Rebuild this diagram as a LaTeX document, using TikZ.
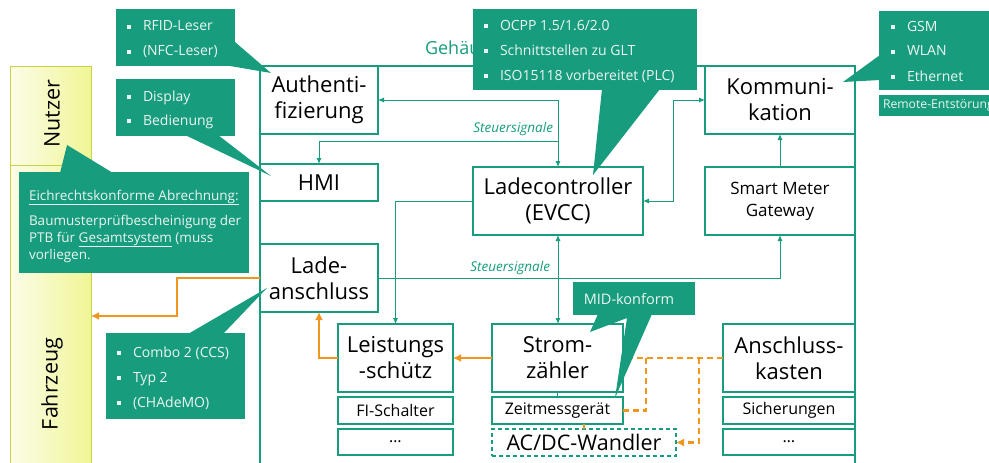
\documentclass[tikz,border=0pt]{standalone}
\usepackage{fontspec}
\setmainfont{Open Sans}
\usetikzlibrary{arrows.meta}
\definecolor{fhgreen}{RGB}{23,156,125}
\definecolor{fhorange}{RGB}{238,150,30}
\definecolor{calltext}{RGB}{236,246,242}
\definecolor{bandlight}{RGB}{252,252,232}
\definecolor{banddark}{RGB}{240,246,150}
\definecolor{bandedge}{RGB}{200,210,70}
\newcommand\bul{\makebox[16pt][l]{\rule[2pt]{3.8pt}{3.8pt}}}
\newcommand\topstrut{\rule{0pt}{1em}}
\newcommand\fs[2]{\fontsize{#1}{#2}\selectfont}
\tikzset{
  unit/.style={inner sep=0pt, outer sep=0pt},
  blk/.style={unit, draw=fhgreen, line width=1.6pt, fill=white, align=center, font=\fs{22}{26}},
  smallblk/.style={blk, font=\fs{16}{18}},
  callbox/.style={unit, fill=fhgreen},
  calltxt/.style={unit, text=calltext, align=left, font=\fs{14}{25}},
  sig/.style={draw=fhgreen, line width=1pt},
  sigto/.style={-{Latex[length=6pt,width=5pt]}},
  sigboth/.style={{Latex[length=6pt,width=5pt]}-{Latex[length=6pt,width=5pt]}},
  pwr/.style={draw=fhorange, line width=2.6pt},
  pwrto/.style={-{Latex[length=8pt,width=8pt]}},
  pwrdash/.style={pwr, dash pattern=on 6pt off 4pt},
  siglabel/.style={unit, text=fhgreen, font=\fs{13.5}{16}\itshape, anchor=east},
  housing/.style={draw=fhgreen, line width=1.5pt}
}
\begin{document}
\begin{tikzpicture}[x=1pt,y=-1pt]
\useasboundingbox (0,0) rectangle (989,463);
\fill[white] (0,0) rectangle (989,463);

% user / vehicle band
\shade[left color=bandlight, right color=banddark] (10,66) rectangle (91,470);
\draw[bandedge, line width=1pt] (10,470) -- (10,66) -- (91,66) -- (91,470);
\draw[bandedge, line width=1pt] (10,165) -- (91,165);
\node[unit, rotate=90, font=\fs{21.5}{24}] (nutzer) at (52,114) {Nutzer};
\node[unit, rotate=90, font=\fs{21.5}{24}] (fahrzeug) at (52,384) {Fahrzeug};

% housing outline
\coordinate (hBL) at (260,470);
\coordinate (hTL) at (260,66);
\coordinate (hTR) at (855,66);
\coordinate (hBR) at (855,470);
\draw[housing] (hBL) -- (hTL) -- (hTR) -- (hBR);
\node[unit, text=fhgreen, font=\fs{18}{20}, anchor=base west] (geh) at (425,54) {Gehäuse};

% function blocks
\node[blk, minimum width=118pt, minimum height=68pt] (auth) at (319,100) {Authenti-\\fizierung};
\node[blk, minimum width=118pt, minimum height=37pt] (hmi) at (319,182.5) {HMI};
\node[blk, minimum width=118pt, minimum height=68pt] (lade) at (319,278) {Lade-\\anschluss};
\node[blk, minimum width=170pt, minimum height=68pt] (evcc) at (558,201) {Ladecontroller\\(EVCC)};
\node[blk, minimum width=150pt, minimum height=68pt] (komm) at (780,100) {Kommuni-\\kation};
\node[blk, minimum width=150pt, minimum height=68pt, font=\fs{17}{22}] (smgw) at (780,201) {Smart Meter\\Gateway};
\node[blk, minimum width=115pt, minimum height=68pt] (schuetz) at (395.5,358) {Leistungs\\-schütz};
\node[smallblk, minimum width=115pt, minimum height=27pt] (fi) at (395.5,410.5) {FI-Schalter};
\node[smallblk, minimum width=115pt, minimum height=26pt] (dotsA) at (395.5,442) {\dots};
\node[blk, minimum width=131pt, minimum height=68pt] (strom) at (557.5,358) {Strom-\\zähler};
\node[smallblk, minimum width=131pt, minimum height=27pt] (zeit) at (557.5,410.5) {Zeitmessgerät};
\node[blk, minimum width=184pt, minimum height=27pt, line width=1.3pt, dash pattern=on 4pt off 3pt, font=\fs{21.5}{24}] (acdc) at (584,442.5) {AC/DC-Wandler};
\node[blk, minimum width=132pt, minimum height=68pt] (kasten) at (789,358) {Anschluss-\\kasten};
\node[smallblk, minimum width=132pt, minimum height=27pt] (sich) at (789,410.5) {Sicherungen};
\node[smallblk, minimum width=132pt, minimum height=26pt] (dotsB) at (789,442) {\dots};

% control signals
\coordinate (jHMI) at (558,141);
\draw[sig, sigboth] (auth.east) -| (evcc.north);
\draw[sig, sigto] (jHMI) -| (hmi.north);
\draw[sig, sigto] (evcc.west) -| (schuetz.north);
\draw[sig, sigboth] (evcc.south) -- (evcc.south |- strom.north);
\draw[sig, sigto] (lade.east) -| (smgw.south);
\draw[sig, sigto] (smgw.north) -- (komm.south);
\draw[sig, sigboth] (evcc.east) -- ++(30,0) |- (komm.west);
\draw[sig] (zeit.north -| strom.south) -- (strom.south);
\node[siglabel] (sl1) at (553,129) {Steuersignale};
\node[siglabel] (sl2) at (550,268) {Steuersignale};

% power path
\coordinate (veh) at (91,316);
\coordinate (jZeit) at (646,358);
\coordinate (jWandler) at (699,358);
\draw[pwr, pwrto] (lade.west) -- ++(-83,0) |- (veh);
\draw[pwr, pwrto] (schuetz.west) -| (lade.south);
\draw[pwr, pwrto] (strom.west) -- (schuetz.east);
\draw[pwrdash] (kasten.west) -- (strom.east);
\draw[pwrdash] (jZeit) |- (zeit.east);
\draw[pwrdash, pwrto] (jWandler) |- (acdc.east);
\draw[pwr, line width=1.5pt] (acdc.north |- zeit.south) -- (acdc.north);

% callouts
\node[callbox, minimum width=119pt, minimum height=57pt, anchor=north west] (cA) at (116,9) {};
\fill[fhgreen] (235,42) -- (271,73) -- (230,66) -- cycle;
\node[calltxt, anchor=north west] (tA) at (127,17) {\topstrut\bul RFID-Leser\\\bul (NFC-Leser)};

\node[callbox, minimum width=119pt, minimum height=57pt, anchor=north west] (cB) at (116,79) {};
\fill[fhgreen] (185,135) -- (271,176) -- (218,135) -- cycle;
\node[calltxt, font=\fs{14}{24}, anchor=north west] (tB) at (127,87) {\topstrut\bul Display\\\bul Bedienung};

\node[callbox, minimum width=230pt, minimum height=101pt, anchor=north west] (cC) at (19,172) {};
\fill[fhgreen] (60,173) -- (67,145) -- (113,173) -- cycle;
\node[calltxt, font=\fs{13.5}{17}, anchor=north west] (tC1) at (29,186.5) {\topstrut\underline{Eichrechtskonforme Abrechnung:}};
\node[calltxt, font=\fs{13.5}{17}, anchor=north west] (tC2) at (29,211.5) {\topstrut Baumusterprüfbescheinigung der\\PTB für \underline{Gesamtsystem} (muss\\vorliegen.};

\node[callbox, minimum width=139pt, minimum height=86pt, anchor=north west] (cD) at (106,333) {};
\fill[fhgreen] (188,334) -- (267,288) -- (223,334) -- cycle;
\node[calltxt, anchor=north west] (tD) at (117,343) {\topstrut\bul Combo 2 (CCS)\\\bul Typ 2\\\bul (CHAdeMO)};

\node[callbox, minimum width=224pt, minimum height=81pt, anchor=north west] (cE) at (473,9) {};
\fill[fhgreen] (602,89) -- (593,175) -- (660,89) -- cycle;
\node[calltxt, anchor=north west] (tE) at (484,16) {\topstrut\bul OCPP 1.5/1.6/2.0\\\bul Schnittstellen zu GLT\\\bul ISO15118 vorbereitet (PLC)};

\node[callbox, minimum width=121pt, minimum height=79pt, anchor=north west] (cF) at (879,11) {};
\fill[fhgreen] (880,55) -- (843,82) -- (880,80) -- cycle;
\node[calltxt, anchor=north west] (tF) at (891,17) {\topstrut\bul GSM\\\bul WLAN\\\bul Ethernet};

\node[callbox, minimum width=121pt, minimum height=21pt, anchor=north west] (cG) at (879,95) {};
\node[calltxt, font=\fs{12.2}{14}, anchor=west] (tG) at (883,106) {Remote-Entstörung};

\node[callbox, minimum width=122pt, minimum height=33pt, anchor=north west] (cH) at (573,282) {};
\fill[fhgreen] (598,314) -- (590,332) -- (627,318) -- (615,398) -- (652,314) -- cycle;
\node[calltxt, font=\fs{14.5}{17}] (tH) at (629,299) {MID-konform};
\end{tikzpicture}
\end{document}
